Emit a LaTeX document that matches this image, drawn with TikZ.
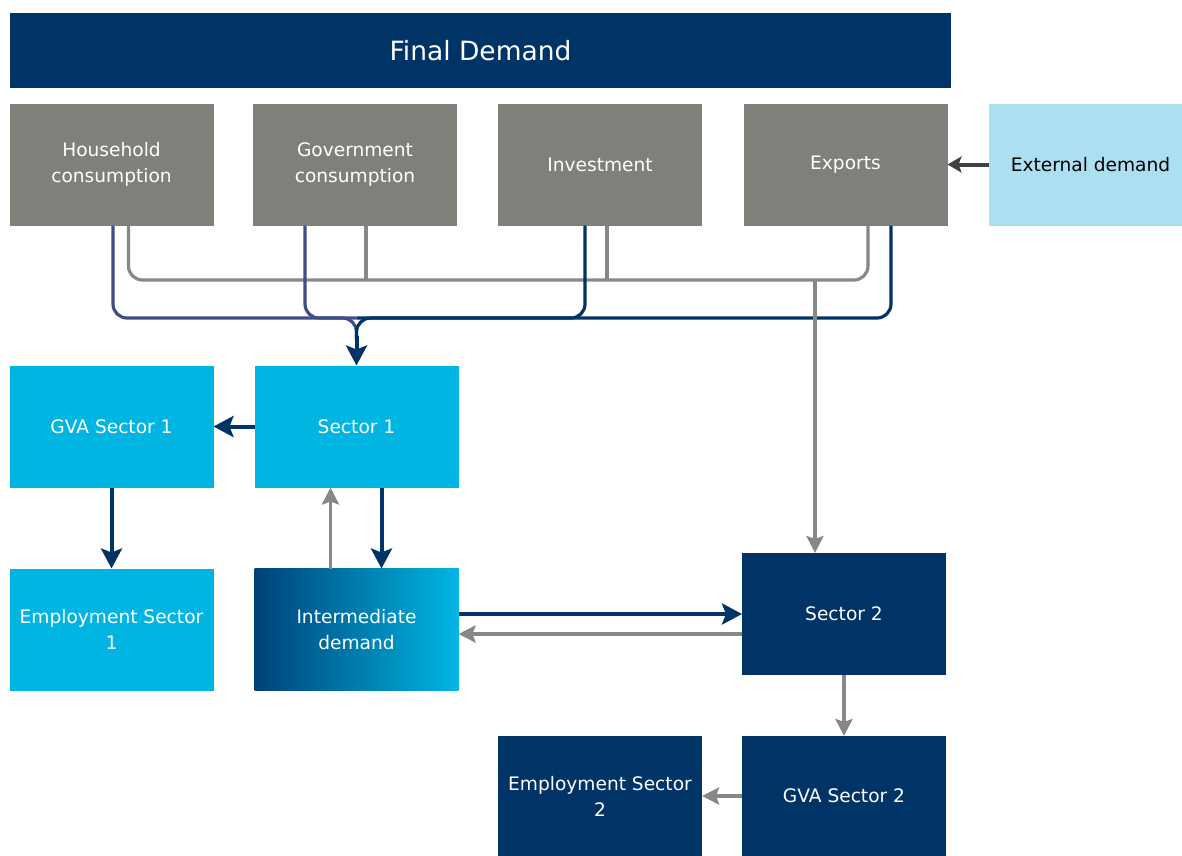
\documentclass[tikz,border=0pt]{standalone}
\usepackage{fontspec}
\setmainfont{DejaVu Sans}
\usetikzlibrary{arrows.meta}
\definecolor{navy}{RGB}{0,51,102}
\definecolor{boxgray}{RGB}{128,128,122}
\definecolor{linegray}{RGB}{135,135,132}
\definecolor{cyanbox}{RGB}{0,181,226}
\definecolor{paleblue}{RGB}{173,223,242}
\definecolor{indigo}{RGB}{62,78,130}
\definecolor{darkarrow}{RGB}{64,64,64}
\definecolor{idleft}{RGB}{0,66,120}
\begin{document}
\begin{tikzpicture}[x=1pt, y=-1pt,
    box/.style={minimum width=204pt, minimum height=122pt, inner sep=0pt, outer sep=0pt,
                align=center, text=white, font=\fontsize{18.6}{26}\selectfont},
    grey/.style={box, fill=boxgray},
    light/.style={box, fill=cyanbox},
    dark/.style={box, fill=navy},
    narrow/.style={draw=navy, line width=4pt, -{Stealth[length=20pt, width=21pt, inset=4pt]}},
    garrow/.style={draw=linegray, line width=3.5pt, -{Stealth[length=17pt, width=17pt, inset=3pt]}},
    gline/.style={draw=linegray, line width=3.2pt, rounded corners=14pt},
    hline/.style={draw=indigo, line width=3.2pt, rounded corners=14pt},
    nline/.style={draw=navy, line width=3.2pt, rounded corners=14pt}]
  \useasboundingbox (0,0) rectangle (1182,855);
  % boxes
  \node[dark, minimum width=941pt, minimum height=75pt, font=\fontsize{26.5}{30}\selectfont]
        (fd) at (480.5,50.5) {Final Demand};
  \node[grey] (hh) at (111.5,164.5) {Household\\consumption};
  \node[grey] (gov) at (355,164.5) {Government\\consumption};
  \node[grey] (inv) at (600,164.5) {Investment};
  \node[grey] (ex) at (845.5,164.5) {Exports};
  \node[box, fill=paleblue, text=black, minimum width=193pt] (ext) at (1085.5,164.5) {\hspace{10pt}External demand};
  \node[light] (gva1) at (111.5,426.5) {GVA Sector 1};
  \node[light] (s1) at (356.5,426.5) {Sector 1};
  \node[light] (emp1) at (111.5,629.5) {Employment Sector\\1};
  \node[box, left color=idleft, right color=cyanbox] (id) at (356.5,629.5) {Intermediate\\demand};
  \node[dark] (s2) at (844,614) {Sector 2};
  \node[dark, minimum height=120pt] (gva2) at (844,796) {GVA Sector 2};
  \node[dark, minimum height=120pt] (emp2) at (600,796) {Employment Sector\\2};
  % rails
  \coordinate (gr) at (0,280);
  \coordinate (br) at (0,318);
  \draw[gline] ([xshift=17pt]hh.south) |- ([xshift=22.5pt]ex.south |- gr) -- ([xshift=22.5pt]ex.south);
  \draw[gline] ([xshift=11pt]gov.south) -- ([xshift=11pt]gov.south |- gr);
  \draw[gline] ([xshift=7pt]inv.south) -- ([xshift=7pt]inv.south |- gr);
  \draw[hline] ([xshift=1.5pt]hh.south) |- (s1.north |- br) -- ([yshift=26pt]s1.north);
  \draw[hline] ([xshift=-50pt]gov.south) |- (s1.north |- br);
  \draw[nline] ([xshift=45.5pt]ex.south) |- (s1.north |- br) -- ([yshift=26pt]s1.north);
  \draw[nline] ([xshift=-15pt]inv.south) |- (s1.north |- br);
  \draw[narrow] ([yshift=30pt]s1.north) -- (s1.north);
  \draw[garrow] ([xshift=-29pt]s2.north |- gr) -- ([xshift=-29pt]s2.north);
  % arrows
  \draw[draw=darkarrow, line width=4pt, -{Stealth[length=14pt, width=16pt, inset=3pt]}] (ext) -- (ex);
  \draw[narrow] (s1) -- (gva1);
  \draw[narrow] (gva1) -- (emp1);
  \draw[narrow] ([xshift=25pt]s1.south) -- ([xshift=25pt]id.north);
  \draw[garrow] ([xshift=-26pt]id.north) -- ([xshift=-26pt]s1.south);
  \draw[narrow] ([yshift=15.5pt]id.east) -- (s2.west);
  \draw[garrow] ([yshift=-20pt]s2.west) -- ([yshift=-4.5pt]id.east);
  \draw[garrow] (s2) -- (gva2);
  \draw[garrow] (gva2) -- (emp2);
\end{tikzpicture}
\end{document}
